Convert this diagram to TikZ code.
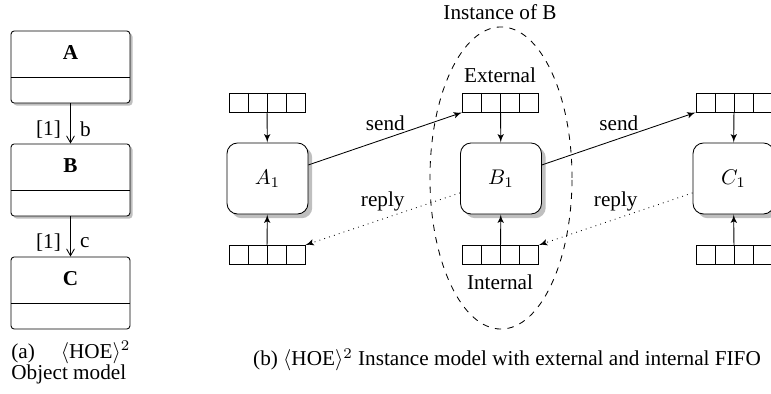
\documentclass[tikz,border=0pt]{standalone}
\usepackage{fontspec}
\setmainfont{Liberation Serif}
\usepackage{tikz}
\usetikzlibrary{shapes,arrows,shadows}
\tikzstyle{classbox} = [rectangle, draw, fill=white, rounded corners=1.5pt,
    minimum width=56.1pt, text height=7pt, text depth=13.6pt, inner ysep=6.7pt]
\tikzstyle{classshadow} = [drop shadow={shadow xshift=1.2pt, shadow yshift=-1.2pt, fill=black!25, opacity=1}]
\tikzstyle{instbox} = [rectangle, draw, fill=white, rounded corners=5pt,
    minimum width=38.2pt, minimum height=33.5pt,
    drop shadow={shadow xshift=2pt, shadow yshift=-2pt, fill=black!25, opacity=1}]
\tikzstyle{fifo} = [rectangle, draw, inner sep=0pt, minimum width=35.8pt, minimum height=9pt,
    path picture={\foreach \i in {-1,0,1}
        \draw ([xshift=\i*8.95pt]path picture bounding box.north)
            -- ([xshift=\i*8.95pt]path picture bounding box.south);}]
\tikzstyle{assoc} = [draw, -angle 60]
\tikzstyle{line} = [draw, -latex']

\begin{document}
\begin{tikzpicture}[x=0.4717pt, y=-0.4717pt]
    \useasboundingbox (0,0) rectangle (771,394);
    \clip (0,0) rectangle (771,394);
    % (a) object model
    \node [classbox, classshadow] (umla) at (70.5,67) {\textbf{A}};
    \node [classbox, classshadow, below of=umla, node distance=53.3pt] (umlb) {\textbf{B}};
    \node [classbox, below of=umlb, node distance=53.3pt] (umlc) {\textbf{C}};
    \foreach \n in {umla,umlb,umlc}
        \draw ([yshift=-22.2pt]\n.north west) -- ([yshift=-22.2pt]\n.north east);
    \path [assoc] (umla) -- node[pos=.65, left=1pt] {[1]} node[pos=.65, right=1pt] {b} (umlb);
    \path [assoc] (umlb) -- node[pos=.65, left=1pt] {[1]} node[pos=.65, right=1pt] {c} (umlc);
    \node [anchor=north west, text width=56.1pt, align=justify, inner sep=0pt,
        font=\fontsize{10pt}{10pt}\selectfont] (capa) at (11,341)
        {(a) $\langle$HOE$\rangle^2$ Object model};

    % (b) instance model
    \node [ellipse, draw, dashed, minimum width=67pt, minimum height=142.5pt] (instof) at (501,178) {};
    \node (instlabel) at (500,12) {Instance of B};
    \node [instbox] (insta) at (267.5,178.5) {$A_1$};
    \node [instbox] (instb) at (501,178.5) {$B_1$};
    \node [instbox] (instc) at (733.5,178.5) {$C_1$};
    \node [fifo] (exta) at (267,102.5) {};
    \node [fifo] (extb) at (500.5,102.5) {};
    \node [fifo] (extc) at (734,102.5) {};
    \node [fifo] (inta) at (267,255) {};
    \node [fifo] (intb) at (500.5,255) {};
    \node [fifo] (intc) at (734,255) {};
    \node (extlabel) at (500,75) {External};
    \node (intlabel) at (500,282) {Internal};
    % queues feed the instances
    \path [line] (exta) -- (insta);
    \path [line] (extb) -- (instb);
    \path [line] (extc) -- (instc);
    \path [line] (inta) -- (insta);
    \path [line] (intb) -- (instb);
    \path [line] (intc) -- (instc);
    % messages
    \path [line] ([yshift=6.4pt]insta.east) -- node[above] {send} (extb.south west);
    \path [line] ([yshift=6.4pt]instb.east) -- node[above] {send} (extc.south west);
    \path [line, dotted] ([yshift=-6.8pt]instb.west) -- node[above] {reply} (inta.north east);
    \path [line, dotted] ([yshift=-6.8pt]instc.west) -- node[above] {reply} (intb.north east);
    \node [anchor=north] (capb) at (507,341)
        {(b) $\langle$HOE$\rangle^2$ Instance model with external and internal FIFO};
\end{tikzpicture}
\end{document}
